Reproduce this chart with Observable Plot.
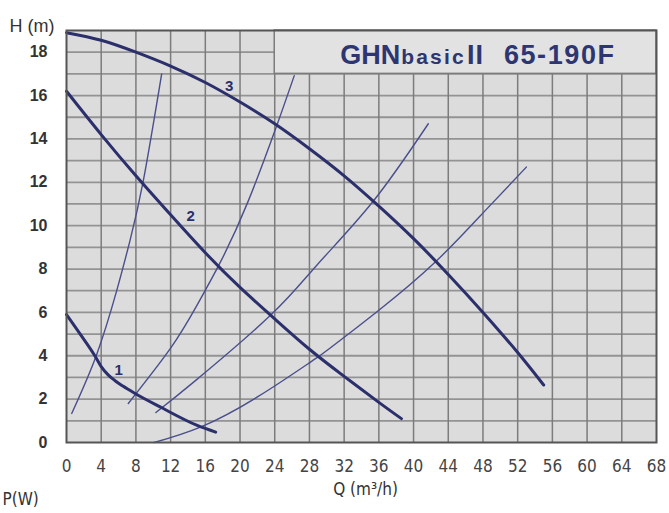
<!DOCTYPE html>
<html><head><meta charset="utf-8">
<script src="https://cdn.jsdelivr.net/npm/d3@7"></script>
<script src="https://cdn.jsdelivr.net/npm/@observablehq/plot@0.6"></script>
<style>
body{margin:0;background:#fff}
#chart{width:669px;height:513px;overflow:hidden}
</style>
</head><body><div id="chart"></div>
<script>
// Axis ticks and grid
const qTicks = [0,4,8,12,16,20,24,28,32,36,40,44,48,52,56,60,64,68];
const hTicks = [0,2,4,6,8,10,12,14,16,18];
const qGrid = [4,8,12,16,20,24,28,32,36,40,44,48,52,56,60,64];
const hGrid = [1,2,3,4,5,6,7,8,9,10,11,12,13,14,15,16,17,18];
// Title box (Q range, H range)
const boxQ = [24,68];
const boxH = [17,19];
const titleQ = 31.6;
const titleH = 17.45;

// Pump curves (speed 1,2,3)
const pump1Q = [0,1.7,3.3,4.0,4.8,5.6,6.5,7.9,10.8,15,17.2];
const pump1H = [5.9,4.93,3.98,3.5,3.12,2.85,2.6,2.26,1.64,0.8,0.48];
const pump2Q = [0,4,8,12,16,20,24,28,32,36,38.6];
const pump2H = [16.2,14.2,12.3,10.5,8.75,7.15,5.7,4.3,3.05,1.85,1.1];
const pump3Q = [0,4,8,12,16,20,24,28,32,36,40,44,48,52,55];
const pump3H = [18.9,18.55,18.0,17.36,16.6,15.7,14.7,13.55,12.3,10.9,9.4,7.75,6.0,4.15,2.65];

// System curves
const sys1Q = [0.6,3.46,5.77,7.31,8.85,10.97];
const sys1H = [1.34,4.04,6.98,9.3,12.06,17.0];
const sys2Q = [7.12,12,15,17.78,20.86,24.13,26.25];
const sys2H = [1.8,4.35,6.3,8.35,11.05,14.5,16.92];
const sys3Q = [10.3,15,23.6,28.9,35.3,41.7];
const sys3H = [1.38,2.9,5.9,8.2,11.1,14.7];
const sys4Q = [10.1,15.5,22,28.2,30.1,36,42.6,48.2,53];
const sys4H = [0,0.72,2.1,3.73,4.27,6.1,8.36,10.67,12.7];

// Curve labels
const labelText = ["1","2","3"];
const labelQ = [6.0,14.3,18.75];
const labelH = [3.35,10.45,16.45];

const pts = (qs, hs) => qs.map((q,i) => ({q, h: hs[i]}));
const pumps = [pts(pump1Q,pump1H), pts(pump2Q,pump2H), pts(pump3Q,pump3H)];
const pumpCurves = ["monotone-x","natural","natural"];
const systems = [pts(sys1Q,sys1H), pts(sys2Q,sys2H), pts(sys3Q,sys3H), pts(sys4Q,sys4H)];
const labels = labelText.map((t,i) => ({t, q: labelQ[i], h: labelH[i]}));

const navy = "#2b2f6b";
const thin = "#4a4f8c";

const marks = [
  Plot.frame({fill:"#dcdcdc", stroke:null}),
  Plot.ruleY(hGrid, {stroke:"#939393", strokeWidth:1.8}),
  Plot.ruleX(qGrid, {stroke:"#7c7c7c", strokeWidth:1.5}),
  Plot.rect([{q1:boxQ[0], q2:boxQ[1], h1:boxH[0], h2:boxH[1]}], {x1:"q1", x2:"q2", y1:"h1", y2:"h2", fill:"#e2e2e2", stroke:"#7c7c7c", strokeWidth:1.5}),
  ...systems.map(d => Plot.line(d, {x:"q", y:"h", curve:"natural", stroke:thin, strokeWidth:1.4})),
  ...pumps.map((d,i) => Plot.line(d, {x:"q", y:"h", curve:pumpCurves[i], stroke:navy, strokeWidth:3})),
  Plot.text(labels, {x:"q", y:"h", text:"t", fill:navy, fontSize:15, fontWeight:"bold"}),
  Plot.frame({stroke:"#555", strokeWidth:2}),
  Plot.axisX(qTicks, {tickSize:0, tickPadding:17, fontSize:17, fill:"#444", fontFamily:"'Liberation Sans Narrow','DejaVu Sans Condensed',sans-serif", label:null}),
  Plot.axisY(hTicks, {tickSize:0, tickPadding:19, fontSize:16, fontWeight:"bold", fill:"#333", fontFamily:"'Liberation Sans',Arial,sans-serif", label:null}),
  Plot.text(["H (m)"], {frameAnchor:"top-left", dx:-57, dy:-11, textAnchor:"start", fontSize:18, fill:"#333", fontFamily:"'Liberation Sans',Arial,sans-serif"}),
  Plot.text(["Q (m³/h)"], {frameAnchor:"bottom", dx:4, dy:52, fontSize:17, fill:"#333", fontFamily:"'Liberation Sans Narrow','DejaVu Sans Condensed',sans-serif"}),
  Plot.text(["P(W)"], {frameAnchor:"bottom-left", dx:-64, dy:62, textAnchor:"start", fontSize:17, fill:"#333", fontFamily:"'Liberation Sans Narrow','DejaVu Sans Condensed',sans-serif"})
];

const plot = Plot.plot({
  width:669, height:513,
  marginLeft:66, marginRight:13, marginTop:30, marginBottom:71,
  x:{domain:[0,68]},
  y:{domain:[0,19]},
  style:{background:"#fff", overflow:"visible", fontFamily:"'Liberation Sans',Arial,sans-serif"},
  marks
});

// Title inside the box
const xs = plot.scale("x"), ys = plot.scale("y");
const tx = xs.apply(titleQ), ty = ys.apply(titleH);
const t = d3.select(plot).append("text")
  .attr("x", tx).attr("y", ty)
  .attr("text-anchor", "start")
  .attr("fill", "#2d3670")
  .attr("font-family", "'Liberation Sans',Arial,sans-serif")
  .attr("font-weight", "bold");
t.append("tspan").attr("font-size", 27).text("GHN");
t.append("tspan").attr("font-size", 21).attr("letter-spacing", 2.2).attr("dx", 1).text("basic");
t.append("tspan").attr("font-size", 27).attr("letter-spacing", 1).attr("dx", 1).text("II");
t.append("tspan").attr("font-size", 27).attr("letter-spacing", 1.6).attr("dx", 20).text("65-190F");

document.getElementById("chart").appendChild(plot);
</script>
</body></html>
